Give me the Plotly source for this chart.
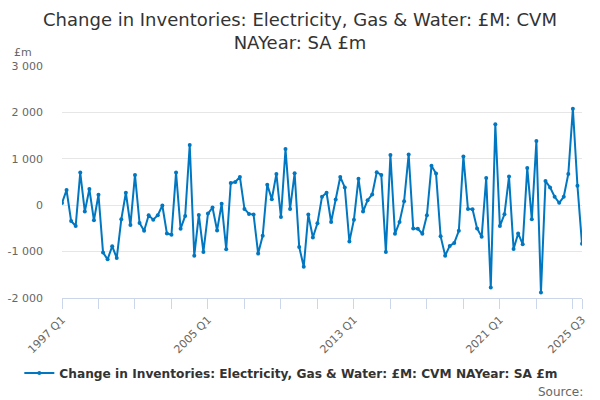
import plotly.graph_objects as go

# quarterly values, 1997 Q1 .. 2025 Q3 (£m)
years = list(range(1997, 2026))
values = [
    50, 326, -341, -449, 703, -138, 348, -326, 225, -1022, -1167, -884,
    -1138, -304, 268, -428, 652, -384, -551, -217, -312, -217, -7, -609,
    -638, 703, -507, -232, 1297, -1087, -210, -1007, -181, -51, -543, 29,
    -949, 478, 500, 609, -80, -188, -203, -1043, -659, 442, 130, 674,
    -254, 1210, -80, 688, -899, -1326, -203, -696, -391, 181, 268, -362,
    123, 609, 384, -783, -312, 572, -138, 109, 232, 710, 652, -1007,
    1080, -616, -362, 87, 1094, -500, -507, -616, -217, 848, 681, -667,
    -1087, -877, -812, -551, 1051, -80, -87, -500, -681, 587, -1775, 1746,
    -449, -196, 616, -942, -609, -841, 804, -304, 1384, -1884, 522, 384,
    181, 51, 181, 674, 2080, 420, -833,
]
quarters = [f"{y} Q{q}" for y in years for q in range(1, 5)][:len(values)]

series_name = "Change in Inventories: Electricity, Gas & Water: £M: CVM NAYear: SA £m"
y_ticks = [-2000, -1000, 0, 1000, 2000, 3000]
y_labels = ["-2 000", "-1 000", "0", "1 000", "2 000", "3 000"]
labelled = ["1997 Q1", "2005 Q1", "2013 Q1", "2021 Q1", "2025 Q3"]

# a tick every two years, plus one on the last quarter
tick_vals = quarters[:-1:8] + [quarters[-1]]
tick_text = [q if q in labelled else "" for q in tick_vals]

blue = "#0077c0"
fig = go.Figure()
fig.add_trace(go.Scatter(
    x=quarters, y=values, mode="lines+markers", name=f"<b>{series_name}</b>",
    line=dict(color=blue, width=2),
    marker=dict(color=blue, size=4),
))

fig.update_layout(
    width=600, height=400,
    margin=dict(l=62, r=18, t=66, b=102),
    paper_bgcolor="white", plot_bgcolor="white",
    font=dict(family="DejaVu Sans", color="#666666", size=11),
    title=dict(
        text="Change in Inventories: Electricity, Gas & Water: £M: CVM<br>NAYear: SA £m",
        x=0.5, xanchor="center", yref="container", y=0.935, yanchor="top",
        font=dict(size=18, color="#333333", family="DejaVu Sans"),
    ),
    showlegend=True,
    legend=dict(
        orientation="h", x=0.441, xanchor="center", y=-0.323, yanchor="middle",
        font=dict(size=12.2, color="#333333", family="DejaVu Sans"),
    ),
    xaxis=dict(
        type="category", range=[0, len(values) - 1], automargin=False,
        tickmode="array", tickvals=tick_vals, ticktext=tick_text,
        tickangle=-45, ticks="outside", ticklen=10, tickcolor="#ccd6eb",
        showline=True, linecolor="#ccd6eb", linewidth=1,
        showgrid=False, zeroline=False,
        tickfont=dict(size=11, color="#666666"),
    ),
    yaxis=dict(
        range=[-2000, 3000], tickmode="array", automargin=False,
        tickvals=y_ticks, ticktext=y_labels,
        showgrid=True, gridcolor="#e6e6e6", gridwidth=1,
        zeroline=False, showline=False, ticks="",
        ticklabelstandoff=18,
        tickfont=dict(size=11, color="#666666"),
    ),
    annotations=[
        dict(text="£m", xref="paper", yref="paper", x=-0.096, y=1.06,
             xanchor="left", yanchor="middle", showarrow=False,
             font=dict(size=11, color="#666666")),
        dict(text="Source:", xref="paper", yref="paper", x=1.005, y=-0.405,
             xanchor="right", yanchor="middle", showarrow=False,
             font=dict(size=12, color="#666666")),
    ],
)

# drop the page's default body margin so the figure sits at the window corner
fig.write_html("out.html", config={"displayModeBar": False},
               post_script="document.body.style.margin='0';document.body.style.overflow='hidden';")
